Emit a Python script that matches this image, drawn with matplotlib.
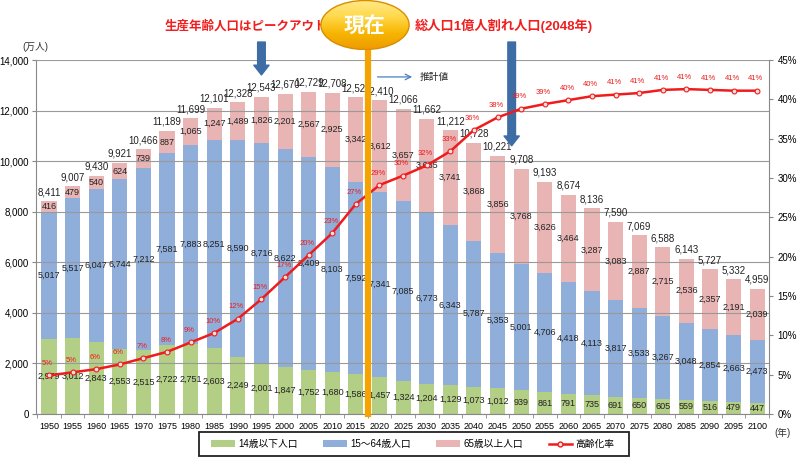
import matplotlib.pyplot as plt
import numpy as np
from matplotlib.patches import Ellipse, Patch, Rectangle
from matplotlib.lines import Line2D
from matplotlib.colors import LinearSegmentedColormap

plt.rcParams['font.family'] = ['Liberation Sans', 'Noto Sans CJK JP', 'DejaVu Sans']

years = list(range(1950, 2101, 5))
young = [2979, 3012, 2843, 2553, 2515, 2722, 2751, 2603, 2249, 2001, 1847, 1752, 1680, 1586,
         1457, 1324, 1204, 1129, 1073, 1012, 939, 861, 791, 735, 691, 650, 605, 559, 516, 479, 447]
working = [5017, 5517, 6047, 6744, 7212, 7581, 7883, 8251, 8590, 8716, 8622, 8409, 8103, 7592,
           7341, 7085, 6773, 6343, 5787, 5353, 5001, 4706, 4418, 4113, 3817, 3533, 3267, 3048, 2854, 2663, 2473]
elderly = [416, 479, 540, 624, 739, 887, 1065, 1247, 1489, 1826, 2201, 2567, 2925, 3342,
           3612, 3657, 3685, 3741, 3868, 3856, 3768, 3626, 3464, 3287, 3083, 2887, 2715, 2536, 2357, 2191, 2039]
total = [8411, 9007, 9430, 9921, 10466, 11189, 11699, 12101, 12328, 12543, 12670, 12729, 12708, 12520,
         12410, 12066, 11662, 11212, 10728, 10221, 9708, 9193, 8674, 8136, 7590, 7069, 6588, 6143, 5727, 5332, 4959]
aging = [4.9, 5.3, 5.7, 6.3, 7.1, 7.9, 9.1, 10.3, 12.1, 14.6, 17.4, 20.2, 23.0, 26.7,
         29.1, 30.3, 31.6, 33.4, 36.1, 37.7, 38.8, 39.4, 39.9, 40.4, 40.6, 40.8, 41.2, 41.3, 41.2, 41.1, 41.1]

now_year = 2017.5
peak_year = 1995
under_100m_year = 2048

c_young = '#B3CE85'
c_work = '#8FAEDA'
c_old = '#E8B4B4'
c_rate = '#EE1C1C'
c_now = '#F5A300'
c_arrow = '#3E6DA6'

x = np.arange(len(years))
young = np.array(young)
working = np.array(working)
elderly = np.array(elderly)


def xpos(year):
    return (year - years[0]) / 5


fig = plt.figure(figsize=(8.02, 4.59), dpi=100)
ax = fig.add_axes([36/802, 45/459, 733/802, 354/459])

w = 0.64
ax.bar(x, young, w, color=c_young, label='14歳以下人口')
ax.bar(x, working, w, bottom=young, color=c_work, label='15～64歳人口')
ax.bar(x, elderly, w, bottom=young + working, color=c_old, label='65歳以上人口')

lab = dict(ha='center', va='center', fontsize=6.5, color='#222222')
for i in x:
    ax.text(i, young[i] / 2, f"{young[i]:,}", **lab)
    ax.text(i, young[i] + working[i] / 2, f"{working[i]:,}", **lab)
    ax.text(i, young[i] + working[i] + elderly[i] / 2, f"{elderly[i]:,}", **lab)
    ax.annotate(f"{total[i]:,}", (i, total[i]), xytext=(0, 3), textcoords='offset points',
                ha='center', va='bottom', fontsize=7, color='#222222')

ax.set_xlim(-0.55, 30.5)
ax.set_ylim(0, 14000)
ax.set_yticks(range(0, 14001, 2000))
ax.set_yticklabels([f"{v:,}" for v in range(0, 14001, 2000)])
ax.set_xticks(x, labels=years)
ax.set_xticks(np.arange(-0.5, len(years), 1), minor=True)
ax.tick_params(axis='x', which='major', length=0, labelsize=6.5, pad=6)
ax.tick_params(axis='x', which='minor', length=3, color='#888888')
ax.tick_params(axis='y', length=3, labelsize=7, pad=2, color='#888888')
ax.yaxis.grid(True, color='#999999', lw=0.8)
ax.set_axisbelow(False)
for s in ['top', 'right']:
    ax.spines[s].set_visible(False)
for s in ['left', 'bottom']:
    ax.spines[s].set_color('#888888')

# aging rate on the right axis
ax2 = ax.twinx()
ax2.plot(x, aging, color=c_rate, lw=1.8, marker='o', ms=3.5, mfc='#FFE0E0', mec=c_rate, mew=0.8,
         label='高齢化率', zorder=3)
for i in x:
    ax2.annotate(f"{aging[i]:.0f}%", (i, aging[i]), xytext=(-1, 6), textcoords='offset points',
                 ha='center', va='bottom', fontsize=5.5, color=c_rate)
ax2.set_ylim(0, 45)
ax2.set_yticks(range(0, 46, 5))
ax2.set_yticklabels([f"{v}%" for v in range(0, 46, 5)])
ax2.tick_params(axis='y', length=3, labelsize=7, pad=3, color='#888888')
for s in ['top', 'left', 'bottom']:
    ax2.spines[s].set_visible(False)
ax2.spines['right'].set_color('#888888')

# present-day divider
xn = xpos(now_year)
ax2.plot([xn - 0.07, xn - 0.07], [0, 41], color='#666666', lw=0.7, ls=(0, (3, 3)), zorder=4)
ax2.plot([xn, xn], [0, 48.8], color=c_now, lw=4.5, zorder=5, clip_on=False)

# estimate marker
ax.annotate('', xy=(xpos(2027.5), 13330), xytext=(xpos(2019), 13330),
            arrowprops=dict(arrowstyle='->', color='#4A7EC0', lw=0.9), annotation_clip=False)
ax.text(xpos(2028.5), 13330, '推計値', fontsize=7, va='center', ha='left', color='#222222')

# event arrows
arrow_kw = dict(arrowstyle='simple,head_length=0.7,head_width=1.1,tail_width=0.55',
                mutation_scale=10, color=c_arrow)
ax.annotate('', xy=(xpos(peak_year), 13300), xytext=(xpos(peak_year), 14820),
            arrowprops=arrow_kw, annotation_clip=False)
ax.annotate('', xy=(xpos(under_100m_year), 10500), xytext=(xpos(under_100m_year), 14820),
            arrowprops=arrow_kw, annotation_clip=False)

fig.text(165/802, 1 - 26/459, '生産年齢人口はピークアウト(', color='#F01E1E',
         fontsize=9, fontweight='bold', va='center', ha='left')
fig.text(415/802, 1 - 26/459, '総人口1億人割れ人口(2048年)', color='#F01E1E',
         fontsize=9.5, fontweight='bold', va='center', ha='left')

fig.text(22/802, 1 - 47/459, '(万人)', fontsize=7, va='center', color='#333333')
fig.text(774/802, 1 - 433/459, '(年)', fontsize=7, va='center', color='#333333')

# "now" badge
eax = fig.add_axes([(365 - 45)/802, 1 - 50/459, 90/802, 50/459])
eax.set_zorder(10)
eax.axis('off')
eax.set_xlim(0, 1)
eax.set_ylim(0, 1)
grad = np.linspace(0, 1, 100).reshape(-1, 1)
cm = LinearSegmentedColormap.from_list('badge', ['#EE9A00', '#F7B500', '#FFD84A', '#FFE98A'])
im = eax.imshow(grad, extent=[0, 1, 0, 1], cmap=cm, origin='lower', aspect='auto')
ell = Ellipse((0.5, 0.5), 0.98, 0.98, transform=eax.transAxes, fc='none', ec='#D98E00', lw=1)
eax.add_patch(ell)
im.set_clip_path(ell)
eax.text(0.5, 0.47, '現在', color='white', fontsize=15, fontweight='bold', ha='center', va='center')

# legend with a fixed-size frame
handles = [Patch(fc=c_young), Patch(fc=c_work), Patch(fc=c_old),
           Line2D([], [], color=c_rate, lw=1.8, marker='o', ms=3.5, mfc='#FFE0E0', mec=c_rate)]
labels = ['14歳以下人口', '15～64歳人口', '65歳以上人口', '高齢化率']
fig.legend(handles, labels, loc='center', bbox_to_anchor=(413/802, 1 - 444/459), ncol=4,
           fontsize=7, frameon=False, handlelength=2.4, handleheight=0.7, handletextpad=0.4,
           columnspacing=2.6)
fig.patches.append(Rectangle((199/802, 1 - 456/459), 430/802, 24/459, transform=fig.transFigure,
                             fill=False, ec='#222222', lw=1.3))

fig.savefig('out.png', dpi=100)
